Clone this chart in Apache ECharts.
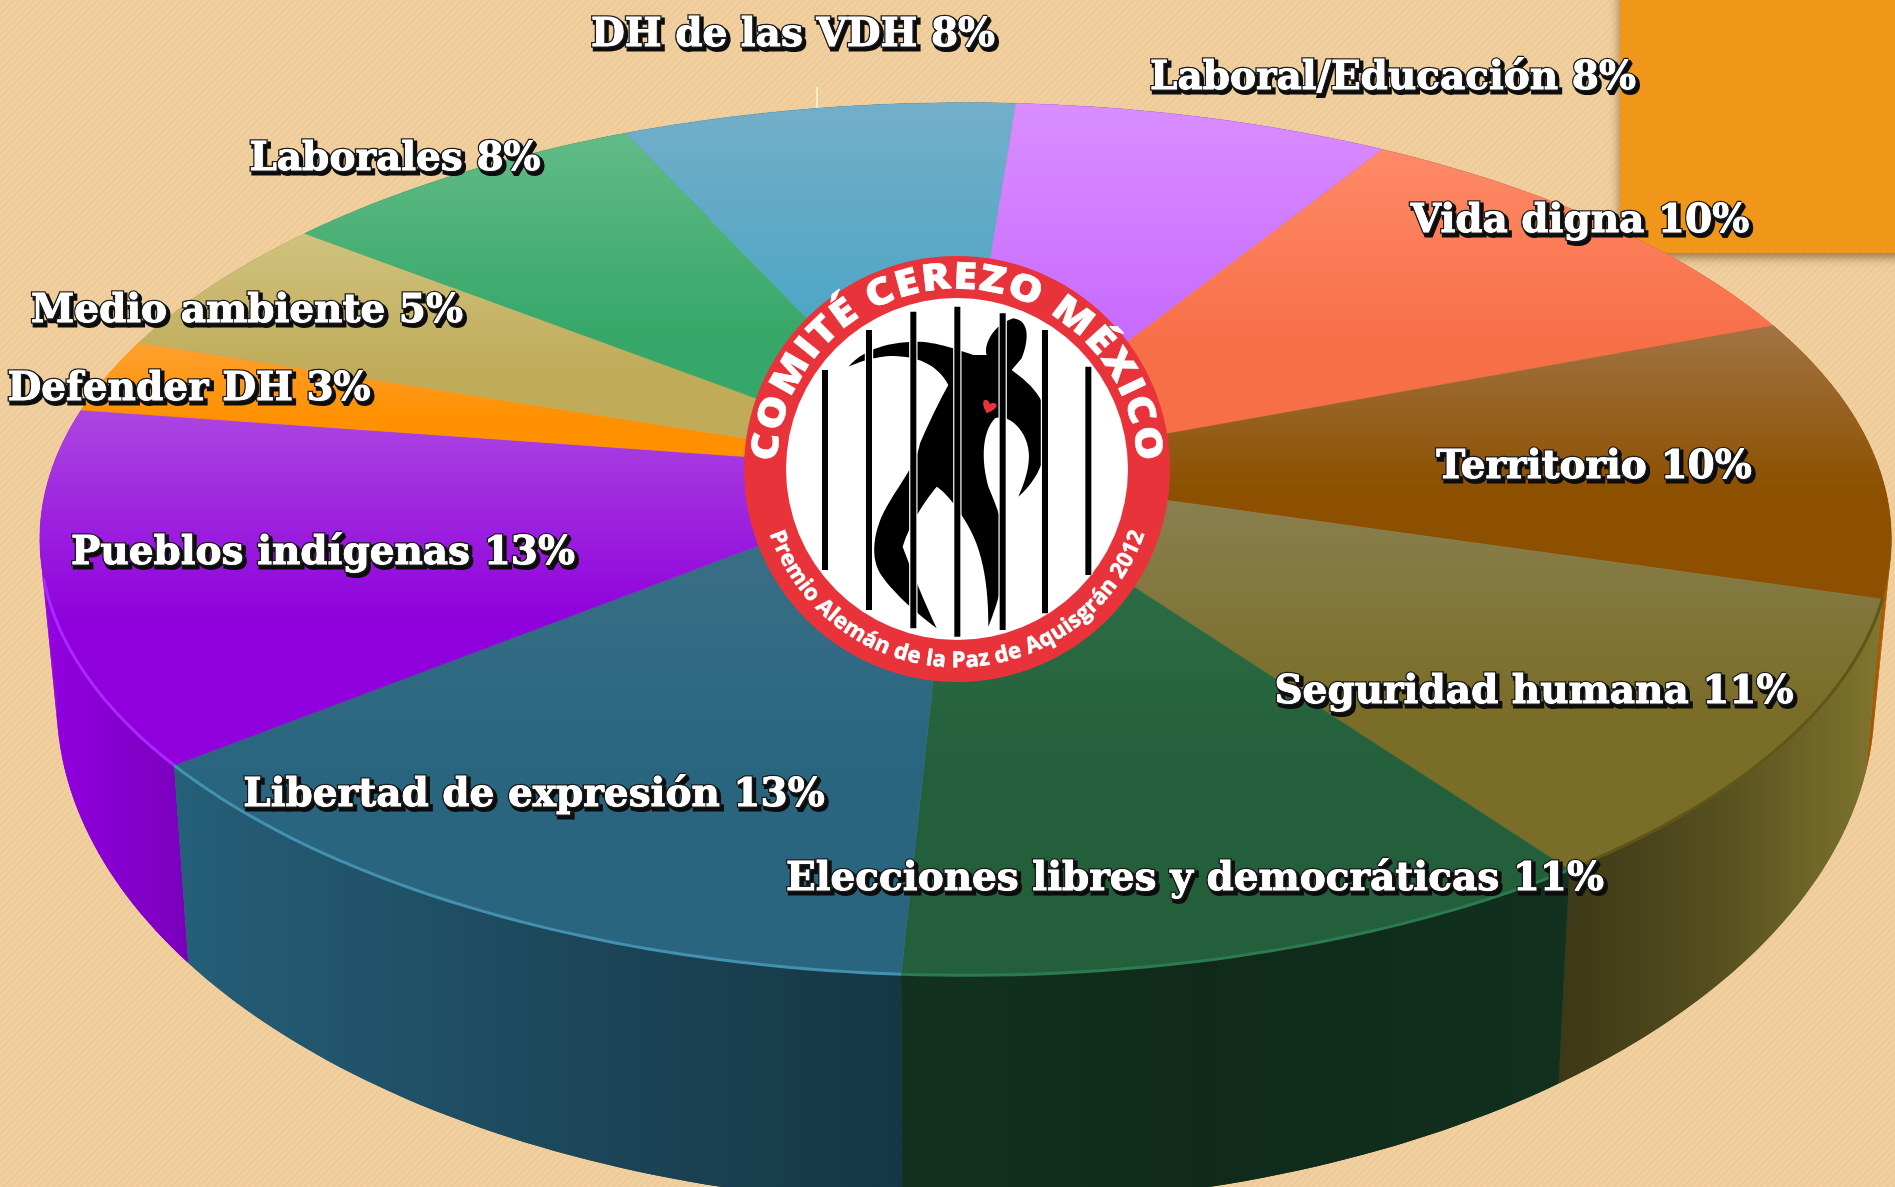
<!DOCTYPE html>
<html><head><meta charset="utf-8">
<style>html,body{margin:0;padding:0;background:#f0d09c}#c{width:1895px;height:1187px}</style>
<script src="https://cdn.jsdelivr.net/npm/echarts@6/dist/echarts.min.js"></script>
</head><body><div id="c"></div>
<script>
// ---- data ----
const categories = ['DH de las VDH','Laboral/Educación','Vida digna','Territorio','Seguridad humana','Elecciones libres y democráticas','Libertad de expresión','Pueblos indígenas','Defender DH','Medio ambiente','Laborales'];
// slice sizes; the printed labels show them rounded
const values = [8.0,7.6,10.4,10.4,10.5,10.7,13.4,13.2,2.8,5.4,7.6];
// ---- style ----
const topLight = ['#74aec8','#da8eff','#ff8a68','#a27444','#8b8254','#317449','#3d7287','#ab46e2','#ffa030','#d0c27e','#62bb86'];
const topDark  = ['#4ca6c6','#c86cff','#f76f47','#8c5000','#7a6d28','#235f3a','#29657f','#8f00dc','#ff9000','#bfab58','#36a768'];
const wallBase = ['#4ca6c6','#c86cff','#f76f47','#aa5c04','#857a30','#266a42','#2c7290','#9200e2','#ff9000','#bfab58','#36a768'];
const rimColor = [null,null,null,null,'#5f5618','#2c7a50','#4390b0','#a828ff',null,null,null];
const labelCenters = [[793,36],[1393,79],[1580,222],[1594,468],[1534,693],[1195,880],[534,796],[323,554],[189,390],[247,312],[395,160]];
const wallShade = [[40,1],[200,.82],[550,.63],[904,.47],[1200,.4],[1555,.45],[1700,.62],[1850,.9],[1895,1]];
const E = {cx:965.6, cy:539, a:925.7, b:436.3, wx:-.0104, wy:-.155, startDeg:-24.5};
const WALL = {shrink:.982, base:198, slope:.154, refY:767};
const W = 1895, H = 1187;

function rimPoint(deg){
  const th = deg*Math.PI/180, u = Math.sin(th), v = -Math.cos(th);
  const w2 = E.wx*E.wx+E.wy*E.wy, g = 1/Math.sqrt(1-w2), wr = E.wx*u+E.wy*v;
  const t = g*(1+wr), m = (g-1)*wr/w2+g;
  return [E.cx+E.a*(u+m*E.wx)/t, E.cy+E.b*(v+m*E.wy)/t];
}
function lowerPoint(p){ return [E.cx+(p[0]-E.cx)*WALL.shrink, p[1]+WALL.base+WALL.slope*(p[1]-WALL.refY)]; }
function apex(){ return [E.cx+E.a*E.wx, E.cy+E.b*E.wy]; }
function arc(a0,a1){ const o=[]; const n=Math.max(2,Math.ceil(a1-a0)); for(let i=0;i<=n;i++) o.push(rimPoint(a0+(a1-a0)*i/n)); return o; }
function shade(hex,f){ const n=parseInt(hex.slice(1),16); return 'rgb('+[(n>>16)&255,(n>>8)&255,n&255].map(c=>Math.round(Math.min(255,c*f))).join(',')+')'; }

const total = values.reduce((s,v)=>s+v,0);
let acc = 0;
const rows = values.map((v,i)=>{ const a0=E.startDeg+acc/total*360; acc+=v; return [v,a0,E.startDeg+acc/total*360,i]; });

function renderWall(params,api){
  const i=api.value(3), rim=arc(api.value(1),api.value(2)), low=rim.map(lowerPoint);
  const stops=wallShade.map(s=>({offset:s[0]/W,color:shade(wallBase[i],s[1])}));
  stops.unshift({offset:0,color:shade(wallBase[i],1)});
  const fill={type:'linear',x:0,y:0,x2:W,y2:0,global:true,colorStops:stops};
  const z=Math.round(Math.max(...rim.map(p=>p[1])));
  // swept strips first, so the outer silhouette follows the wall's straight edges;
  // the whole wall goes over them so no strip seams show
  const children=[];
  for(let k=0;k<rim.length-1;k++){
    children.push({type:'polygon',z2:z,shape:{points:[rim[k],rim[k+1],low[k+1],low[k]]},style:{fill:fill}});
  }
  children.push({type:'polygon',z2:z,shape:{points:rim.concat(low.slice().reverse())},style:{fill:fill}});
  return {type:'group',children:children};
}
function renderTop(params,api){
  const i=api.value(3), rim=arc(api.value(1),api.value(2)), A=apex(), pts=[A].concat(rim);
  const ys=rim.map(p=>p[1]).concat(A[1]), y0=Math.min(...ys), y1=Math.max(...ys);
  const fill={type:'linear',x:0,y:y0,x2:0,y2:y1,global:true,colorStops:[{offset:0,color:topLight[i]},{offset:.6,color:topDark[i]},{offset:1,color:topDark[i]}]};
  const children=[{type:'polygon',shape:{points:pts},style:{fill:fill,stroke:fill,lineWidth:.6}}];
  if(rimColor[i]) children.push({type:'polyline',z2:5,shape:{points:rim.filter(p=>p[1]>577)},style:{fill:null,stroke:rimColor[i],lineWidth:3}});
  return {type:'group',children:children};
}
function renderLabel(params,api){
  const i=api.value(3), c=labelCenters[i], text=categories[i]+' '+Math.round(api.value(0))+'%';
  const font='bold 39px "DejaVu Serif"';
  const base={font:font,align:'center',verticalAlign:'middle',text:text};
  return {type:'group',children:[
    {type:'text',z2:1,x:c[0]+2.5,y:c[1]+2.5,style:Object.assign({},base,{fill:'#0d0d0d',stroke:'#0d0d0d',lineWidth:5})},
    {type:'text',z2:2,x:c[0],y:c[1],style:Object.assign({},base,{fill:'#fff',stroke:'#1c1c1c',lineWidth:3.5})},
    {type:'text',z2:3,x:c[0],y:c[1],style:Object.assign({},base,{fill:'#fff',stroke:'#fff',lineWidth:.8})}
  ]};
}

// background hatch
const hatch=document.createElement('canvas'); hatch.width=hatch.height=7;
(function(){const g=hatch.getContext('2d'); g.fillStyle='#f1d09f'; g.fillRect(0,0,7,7);
  g.strokeStyle='#ecc997'; g.lineWidth=1.6;
  [[-7,7,7,-7],[0,7,7,0],[0,14,14,0]].forEach(l=>{g.beginPath();g.moveTo(l[0],l[1]);g.lineTo(l[2],l[3]);g.stroke();});})();

// logo
const L={cx:957,cy:469,ro:213,ri:171};
const zx=x=>720+x/3, zy=y=>230+y/3;
const bars=[[315,420,1020],[447,300,1140],[580,245,1195],[712,230,1220],[848,250,1200],[975,300,1150],[1105,410,1035]];
// start point, then cubic segments [c1x,c1y,c2x,c2y,x,y]; a 2-length entry is a straight segment
const figureStart=[385,410];
const figureSegs=[[430,360,500,335,600,335],[660,340,700,355,760,375],[800,375],[790,350,815,285,880,265],[925,270,930,320,905,385],[875,420],[930,460,985,510,980,590],[985,660,965,740,895,800],[930,720,940,660,905,605],[880,570,850,555,825,565],[790,600,780,680,805,770],[830,830,860,900,855,990],[850,1070,825,1140,805,1190],[805,1090,795,970,740,880],[710,830,680,790,650,770],[610,820,570,880,548,950],[570,1010,610,1110,650,1195],[590,1150,520,1090,480,1030],[450,980,460,900,500,830],[540,760,590,700,600,640],[630,570,660,510,685,465],[650,400,590,380,520,378],[470,378,420,395,385,410]];
const heartStart=[790,515];
const heartSegs=[[795,505,805,510,810,522],[820,515,830,520,830,528],[825,540,810,545,800,550],[795,540,788,528,790,515]];
function flatten(start,segs){
  const out=[[zx(start[0]),zy(start[1])]]; let p=start;
  segs.forEach(s=>{
    if(s.length===2){ out.push([zx(s[0]),zy(s[1])]); p=s; return; }
    for(let k=1;k<=14;k++){ const t=k/14,m=1-t;
      const x=m*m*m*p[0]+3*m*m*t*s[0]+3*m*t*t*s[2]+t*t*t*s[4];
      const y=m*m*m*p[1]+3*m*m*t*s[1]+3*m*t*t*s[3]+t*t*t*s[5];
      out.push([zx(x),zy(y)]); }
    p=[s[4],s[5]];
  });
  return out;
}
const meas=document.createElement('canvas').getContext('2d');
function curved(text,font,r,halfSpan,bottom,sx){
  meas.font=font; const ws=[...text].map(ch=>meas.measureText(ch).width), sum=ws.reduce((a,b)=>a+b,0);
  let run=0; const out=[];
  [...text].forEach((ch,k)=>{ const f=(run+ws[k]/2)/sum; run+=ws[k];
    const ang=(-halfSpan+2*halfSpan*f)*Math.PI/180;
    const x=L.cx+r*Math.sin(ang), y=bottom?L.cy+r*Math.cos(ang):L.cy-r*Math.cos(ang);
    out.push({type:'text',z:52,x:x,y:y,scaleX:sx,rotation:bottom?ang:-ang,silent:true,style:{text:ch,font:font,fill:'#fff',stroke:'#fff',lineWidth:.6,align:'center',verticalAlign:'middle'}});
  });
  return out;
}
const graphics=[
  {type:'rect',z:0,shape:{x:1620,y:-20,width:300,height:273},style:{fill:'#f09618',shadowBlur:10,shadowOffsetY:4,shadowColor:'rgba(70,40,0,.55)'}},
  {type:'line',z:0,shape:{x1:817,y1:87,x2:817,y2:108},style:{stroke:'#fff5e0',lineWidth:1.5}},
  {type:'circle',z:50,shape:{cx:L.cx,cy:L.cy,r:L.ro},style:{fill:'#e8333a'}},
  {type:'circle',z:50,shape:{cx:L.cx,cy:L.cy,r:L.ri},style:{fill:'#fff'}},
  {type:'polygon',z:51,shape:{points:flatten(figureStart,figureSegs)},style:{fill:'#000'}}
];
bars.forEach(b=>graphics.push({type:'rect',z:51,shape:{x:zx(b[0])-4.2,y:zy(b[1]),width:8.4,height:(b[2]-b[1])/3},style:{fill:'#fff'}}));
bars.forEach(b=>graphics.push({type:'rect',z:51,shape:{x:zx(b[0])-3,y:zy(b[1]),width:6,height:(b[2]-b[1])/3},style:{fill:'#000'}}));
graphics.push({type:'polygon',z:52,shape:{points:flatten(heartStart,heartSegs)},style:{fill:'#e8333a'}});
graphics.push(...curved('COMITÉ CEREZO MÉXICO','800 37px "Open Sans"',191,88,false,1.15));
graphics.push(...curved('Premio Alemán de la Paz de Aquisgrán 2012','bold 22px "Open Sans"',192,71,true,1));

const chart=echarts.init(document.getElementById('c'),null,{renderer:'canvas',width:W,height:H});
chart.setOption({
  animation:false,
  backgroundColor:{image:hatch,repeat:'repeat'},
  graphic:graphics,
  series:[
    {type:'custom',name:'wall',coordinateSystem:'none',silent:true,clip:false,z:2,renderItem:renderWall,data:rows},
    {type:'custom',name:'top',coordinateSystem:'none',silent:true,clip:false,z:3,renderItem:renderTop,data:rows},
    {type:'custom',name:'labels',coordinateSystem:'none',silent:true,clip:false,z:60,renderItem:renderLabel,data:rows}
  ]
});
</script></body></html>
